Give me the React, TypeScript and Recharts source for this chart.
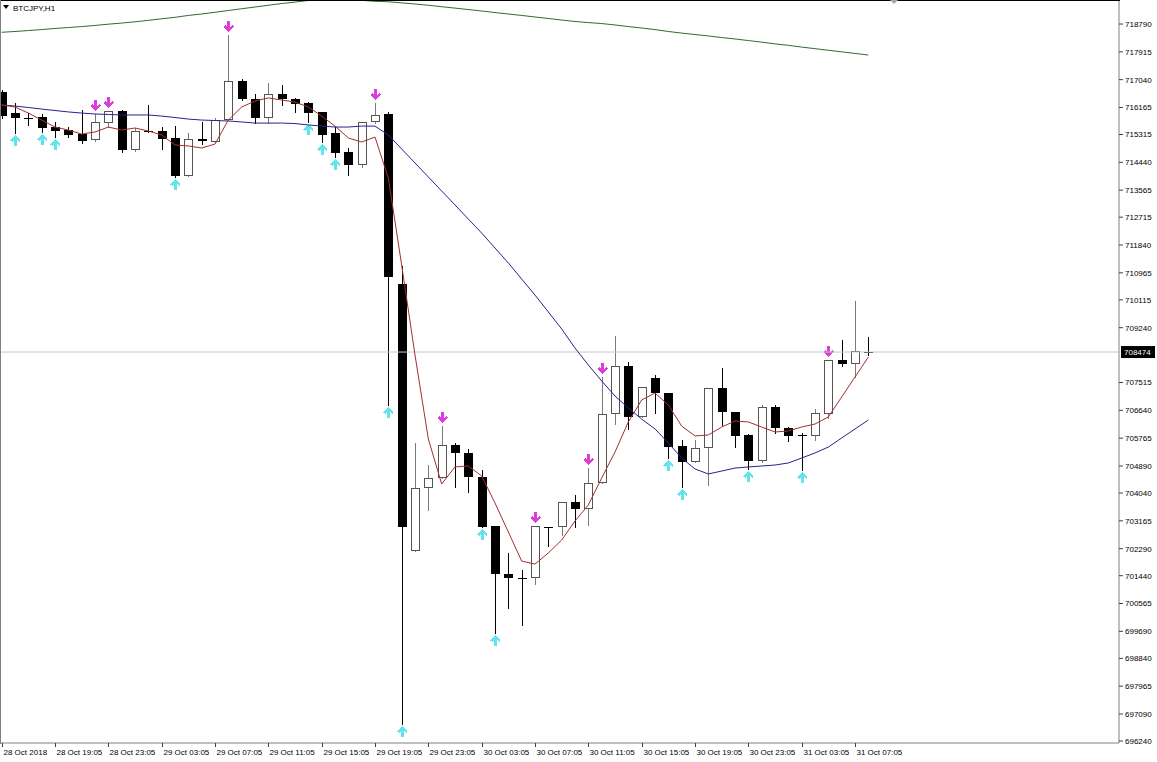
import React from 'react'
import { Bar, ComposedChart, Line, ReferenceLine, XAxis, YAxis } from 'recharts'

// BTCJPY H1 candles, 28 Oct 15:05 .. 31 Oct 08:05
const opens = [
  716650, 715990, 715835, 715865, 715550, 715455, 715330, 715140, 715675, 716055,
  714830, 715425, 715425, 715205, 714010, 715175, 715080, 715770, 717000, 716430,
  715835, 716590, 716430, 716305, 716025, 715365, 714765, 714355, 715710, 715960,
  710615, 702215, 704195, 704510, 705550, 705300, 704545, 703000, 701495, 701365,
  701365, 702970, 702970, 703755, 703535, 704355, 706525, 708035, 706430, 707655,
  707185, 705520, 705015, 705455, 707340, 706590, 705865, 705045, 706745, 706085,
  705865, 705835, 706525, 708225, 708095, 708490,
]
const highs = [
  716715, 716305, 715990, 715960, 715710, 715550, 716085, 715960, 716055, 716085,
  715520, 716245, 715550, 715580, 715360, 715710, 715835, 718445, 717060, 716590,
  716935, 716870, 716465, 716340, 716025, 715550, 714890, 715710, 716305, 716025,
  711180, 705615, 704920, 706145, 705615, 705425, 704765, 703000, 702155, 701620,
  703010, 702970, 703755, 703975, 704825, 707690, 708980, 708160, 707375, 707750,
  707185, 705705, 705705, 707340, 707970, 706590, 705895, 706810, 706810, 706115,
  705925, 706680, 708225, 708850, 710080, 708945,
]
const lows = [
  715835, 715360, 715615, 715395, 715235, 715235, 715050, 715110, 715550, 714765,
  714795, 715395, 714860, 713980, 714010, 715015, 715080, 715770, 716400, 715675,
  715675, 716245, 716025, 715710, 715080, 714605, 714040, 714295, 715675, 706810,
  696775, 702215, 703505, 704510, 704230, 704070, 702965, 699635, 700425, 699890,
  701180, 702375, 702720, 702970, 703035, 704355, 706210, 706055, 706430, 706555,
  705140, 704230, 705015, 704290, 706180, 705485, 704795, 705015, 705925, 705675,
  704765, 705705, 706400, 708035, 707690, 708380,
]
const closes = [
  715895, 715835, 715835, 715520, 715425, 715300, 715110, 715710, 716055, 714830,
  715425, 715425, 715175, 714010, 715175, 715110, 715770, 717000, 716430, 715835,
  716590, 716430, 716275, 715990, 715300, 714735, 714355, 715710, 715930, 710835,
  702970, 704195, 704510, 705550, 705300, 704545, 702970, 701495, 701365, 701365,
  703000, 702970, 703755, 703535, 704355, 706525, 708035, 706430, 707375, 707185,
  705485, 705015, 705455, 707340, 706590, 705835, 705045, 706745, 706085, 705835,
  705865, 706555, 708225, 708095, 708505, 708474,
]

// moving averages
const maFast = [
  716245, 716180, 715990, 715770, 715550, 715455, 715330, 715395, 715550, 715455,
  715520, 715425, 715300, 714985, 714955, 714890, 715015, 715770, 716180, 716370,
  716465, 716400, 716335, 716180, 715895, 715580, 715205, 715080, 715235, 713945,
  711210, 708380, 705740, 704325, 704860, 704890, 704575, 703725, 702815, 701900,
  701805, 702155, 702560, 703160, 703665, 704510, 705330, 706275, 706965, 707185,
  706810, 706145, 705835, 705865, 706115, 706305, 706275, 706115, 705960, 705990,
  706115, 706210, 706430, 707060, 707690, 708315,
]
const maMid = [
  716245, 716210, 716165, 716115, 716070, 716025, 715990, 715960, 715945, 715930,
  715930, 715930, 715895, 715850, 715800, 715770, 715755, 715740, 715710, 715675,
  715675, 715675, 715660, 715615, 715580, 715550, 715550, 715580, 715580, 715300,
  714860, 714420, 713980, 713540, 713100, 712655, 712215, 711745, 711275, 710770,
  710265, 709735, 709200, 708600, 708065, 707565, 707090, 706715, 706365, 706055,
  705615, 705140, 704795, 704640, 704730, 704825, 704860, 704890, 704920, 704985,
  705140, 705300, 705485, 705770, 706055, 706335,
]
const maSlow = [
  718530, 718555, 718585, 718615, 718650, 718680, 718710, 718745, 718785, 718820,
  718860, 718905, 718955, 719000, 719060, 719105, 719160, 719215, 719270, 719325,
  719380, 719435, 719480, 719530, 719560, 719575, 719560, 719535, 719505, 719490,
  719455, 719420, 719380, 719335, 719290, 719245, 719200, 719150, 719105, 719060,
  719010, 718965, 718915, 718870, 718835, 718805, 718760, 718710, 718665, 718615,
  718555, 718505, 718460, 718415, 718365, 718320, 718270, 718220, 718165, 718120,
  718065, 718015, 717965, 717915, 717865, 717815,
]

// fractal arrows (bar indexes)
const upFractals = [7, 8, 17, 28, 33, 40, 44, 45, 62]
const downFractals = [1, 3, 4, 13, 23, 24, 25, 29, 30, 36, 37, 50, 51, 56, 60]

const tickBars = [0, 4, 8, 12, 16, 20, 24, 28, 32, 36, 40, 44, 48, 52, 56, 60, 64]
const tickLabels = [
  '28 Oct 2018', '28 Oct 19:05', '28 Oct 23:05', '29 Oct 03:05', '29 Oct 07:05',
  '29 Oct 11:05', '29 Oct 15:05', '29 Oct 19:05', '29 Oct 23:05', '30 Oct 03:05',
  '30 Oct 07:05', '30 Oct 11:05', '30 Oct 15:05', '30 Oct 19:05', '30 Oct 23:05',
  '31 Oct 03:05', '31 Oct 07:05',
]
// 708365 sits under the price tag, so it is left out
const priceTicks = [
  718790, 717915, 717040, 716165, 715315, 714440, 713565, 712715, 711840, 710965,
  710115, 709240, 707515, 706640, 705765, 704890, 704040, 703165, 702290,
  701440, 700565, 699690, 698840, 697965, 697090, 696240,
]
const lastPrice = 708474
const visibleBars = 84

const FONT = "'Liberation Sans', Arial, sans-serif"
const FS = 8
const UP_COLOR = '#db3ddb'
const DOWN_COLOR = '#63e3ec'

const data = Array.from({ length: visibleBars }, (_, i) =>
  i < opens.length
    ? {
        i,
        o: opens[i],
        h: highs[i],
        l: lows[i],
        c: closes[i],
        fast: maFast[i],
        mid: maMid[i],
        slow: maSlow[i],
        up: upFractals.includes(i),
        down: downFractals.includes(i),
      }
    : { i },
)

// arrow outline, tail at 0 and tip at 11
const arrowPts = [
  [-1.5, 0], [1.5, 0], [1.5, 6], [3.5, 4], [5, 5.5], [0, 11], [-5, 5.5], [-3.5, 4], [-1.5, 6],
]
function arrow(cx: number, tipY: number, pointDown: boolean, color: string) {
  const pts = arrowPts
    .map(([dx, dy]) => `${cx + dx},${pointDown ? tipY - 11 + dy : tipY + 11 - dy}`)
    .join(' ')
  return <polygon points={pts} fill={color} />
}

const Candle = (props: any) => {
  const { x, y, width, height, payload } = props
  if (!payload || payload.o == null || !isFinite(y) || !isFinite(height)) return null
  const top = Math.min(y, y + height)
  const bottom = Math.max(y, y + height)
  const span = payload.h - payload.l || 1
  const py = (v: number) => top + ((payload.h - v) / span) * (bottom - top)
  const c = Math.round(x + width / 2)
  const yo = Math.round(py(payload.o))
  const yc = Math.round(py(payload.c))
  const yh = Math.round(top)
  const yl = Math.round(bottom)
  const bull = payload.c > payload.o
  const bear = payload.c < payload.o
  return (
    <g shapeRendering="crispEdges">
      <line x1={c + 0.5} x2={c + 0.5} y1={yh} y2={yl + 1} stroke={bull ? '#7a7a7a' : '#000'} />
      {bull && (
        <rect x={c - 3.5} y={yc + 0.5} width={8} height={Math.max(1, yo - yc - 1)} fill="#fff" stroke="#555" />
      )}
      {bear && <rect x={c - 4} y={yo} width={9} height={Math.max(1, yc - yo)} fill="#000" />}
      {!bull && !bear && <line x1={c - 4} x2={c + 5} y1={yo + 0.5} y2={yo + 0.5} stroke="#000" />}
      {payload.up && arrow(c + 0.5, yh - 3, true, UP_COLOR)}
      {payload.down && arrow(c + 0.5, yl + 2, false, DOWN_COLOR)}
    </g>
  )
}

const TimeTick = (props: any) => {
  const { x, y, payload } = props
  const k = tickBars.indexOf(payload.value)
  if (k < 0) return <g />
  const px = Math.round(x) + 0.5
  return (
    <g>
      <line x1={px} x2={px} y1={y - 6} y2={y - 2} stroke="#404040" />
      <text x={px + 1} y={y} dy="0.71em" fontSize={FS} fontFamily={FONT} fill="#000" textAnchor="start">
        {tickLabels[k]}
      </text>
    </g>
  )
}

const PriceTag = (props: any) => {
  const vb = props.viewBox
  if (!vb) return null
  const x = vb.x + vb.width
  const y = vb.y
  return (
    <g>
      <rect x={x + 2} y={y - 6} width={34} height={12} fill="#000" />
      <text x={x + 5} y={y} dy="0.35em" fontSize={FS} fontFamily={FONT} fill="#fff">
        {lastPrice}
      </text>
    </g>
  )
}

export default function App() {
  return (
    <div style={{ position: 'absolute', left: 0, top: 0, width: 1157, height: 762, background: '#fff' }}>
      <div style={{ position: 'absolute', left: -5, top: 0 }}>
        <ComposedChart width={1162} height={762} data={data} margin={{ top: 1, right: 0, bottom: 0, left: 0 }}>
          <XAxis
            dataKey="i"
            type="category"
            allowDuplicatedCategory={false}
            height={19}
            interval={0}
            tickLine={false}
            tickSize={4}
            tickMargin={2}
            padding={{ left: 0, right: 4 }}
            axisLine={{ stroke: '#808080' }}
            tick={<TimeTick />}
          />
          <YAxis
            orientation="right"
            width={38}
            domain={[696178, 719514]}
            allowDataOverflow
            ticks={priceTicks}
            interval={0}
            tickSize={4}
            tickMargin={2}
            axisLine={{ stroke: '#808080' }}
            tickLine={{ stroke: '#404040' }}
            tick={{ fill: '#000', fontSize: FS, fontFamily: FONT }}
          />
          <ReferenceLine y={lastPrice} stroke="#c8c8c8" label={PriceTag} />
          <Line dataKey="slow" stroke="#2f6b2f" strokeWidth={1} dot={false} isAnimationActive={false} />
          <Line dataKey="mid" stroke="#25258c" strokeWidth={1} dot={false} isAnimationActive={false} />
          <Bar
            dataKey={(d: any) => (d.h == null ? null : [d.l, d.h])}
            barSize={9}
            shape={<Candle />}
            isAnimationActive={false}
          />
          <Line dataKey="fast" stroke="#a03030" strokeWidth={1} dot={false} isAnimationActive={false} />
        </ComposedChart>
      </div>
      <svg width={1157} height={762} style={{ position: 'absolute', left: 0, top: 0, pointerEvents: 'none' }}>
        <rect x={0} y={0} width={1120} height={1} fill="#000" />
        <line x1={0.5} x2={0.5} y1={0} y2={744} stroke="#808080" />
        <polygon points="3,5 9,5 6,9" fill="#000" />
        <text x={13} y={11} fontSize={FS} fontFamily={FONT} fill="#000">
          BTCJPY,H1
        </text>
        <polygon points="890,0 898,0 894,4" fill="#a8a8a8" />
      </svg>
    </div>
  )
}
